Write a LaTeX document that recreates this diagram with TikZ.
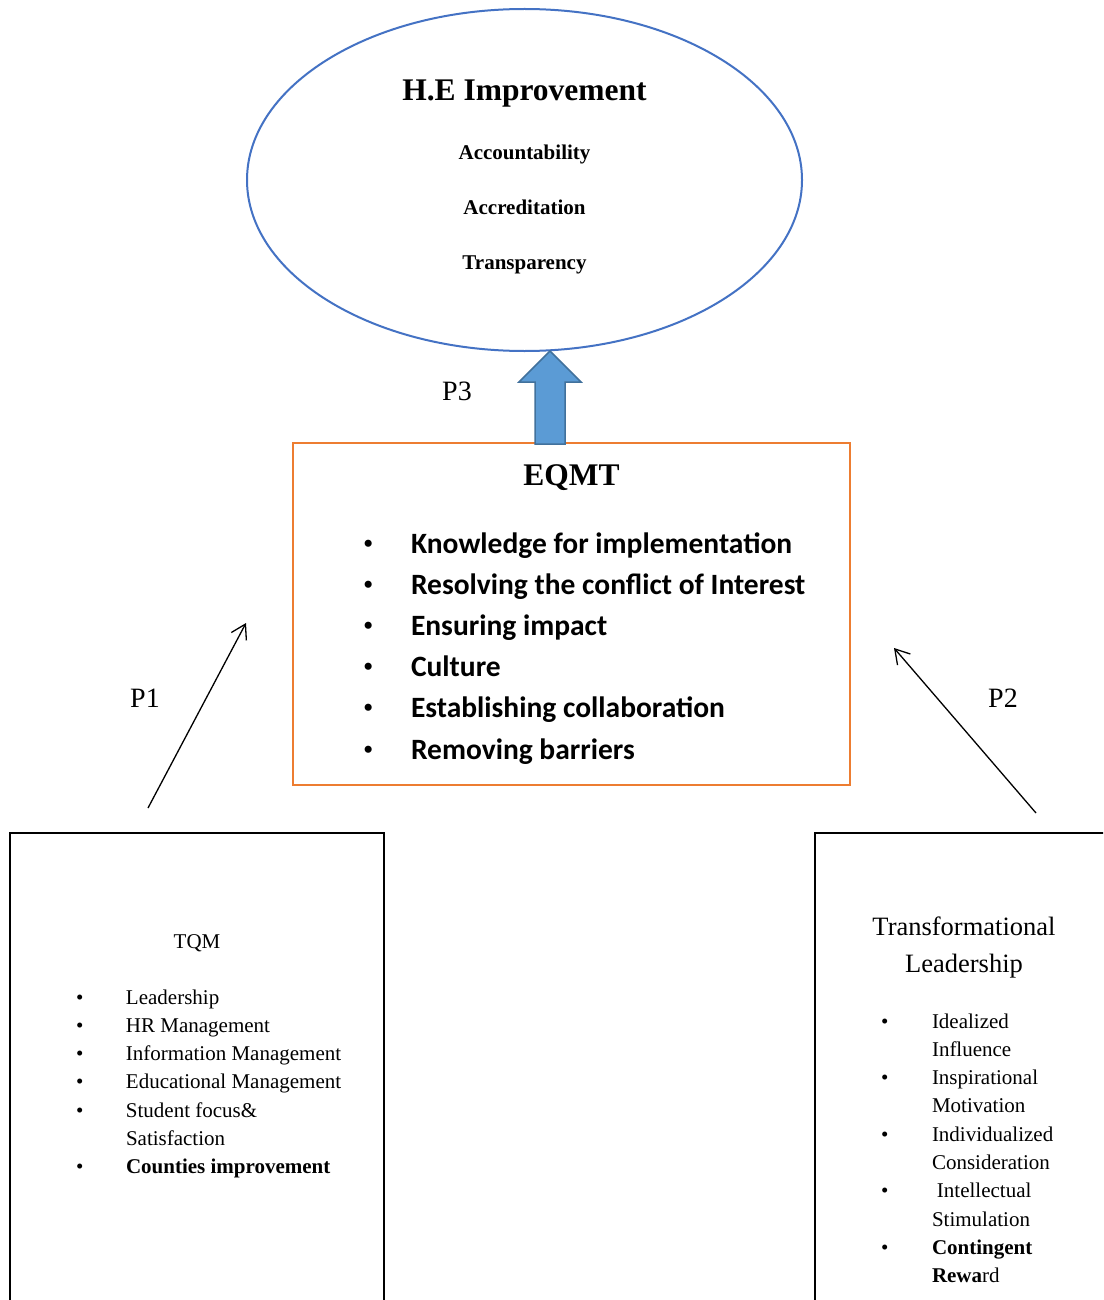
\documentclass[tikz,border=0pt]{standalone}
\usepackage{fontspec}
\setmainfont{Liberation Serif}
\newfontfamily\calibri{Carlito}
\usetikzlibrary{arrows.meta,calc,shapes.geometric}

\definecolor{heblue}{HTML}{4472C4}
\definecolor{boxorange}{HTML}{ED7D31}
\definecolor{arrowfill}{HTML}{5B9BD5}
\definecolor{arrowedge}{HTML}{41719C}

\newcommand{\serifbullet}{{\rmfamily\mdseries\textbullet}}

\tikzset{
  plain/.style={inner sep=0pt, outer sep=0pt},
  heading/.style={plain, anchor=base, font=\bfseries\fontsize{31.5}{36}\selectfont},
  aspect/.style={plain, anchor=base, font=\bfseries\fontsize{21}{24}\selectfont},
  plabel/.style={plain, anchor=base, font=\fontsize{28}{32}\selectfont},
  listbox/.style={draw=black, line width=1.5pt, plain, anchor=north west},
  pathline/.style={line width=1.3pt, -{Straight Barb[length=14pt, width=17pt, line width=1.3pt]}},
}

\begin{document}
\begin{tikzpicture}[x=1pt, y=-1pt]
\clip (0,0) rectangle (1103,1300);
\fill[white] (0,0) rectangle (1103,1300);

% outcome ellipse
\node[ellipse, draw=heblue, line width=2pt, plain, minimum width=555pt, minimum height=342pt] (he) at (524.5,180) {};
\node[heading] (hetitle) at (524.5,101) {H.E Improvement};
\node[aspect] (acc1) at (524.5,160) {Accountability};
\node[aspect] (acc2) at (524.5,214) {Accreditation};
\node[aspect] (acc3) at (524.5,269) {Transparency};

% EQMT box
\node[draw=boxorange, line width=2pt, plain, minimum width=557pt, minimum height=342pt] (eqmt) at (571.5,614) {};
\node[heading] (eqmttitle) at (571.5,485) {EQMT};
\node[plain, anchor=base west] (eqmtlist) at (363,553) {%
  \calibri\bfseries\fontsize{29.5}{41.2}\selectfont
  \begin{tabular}[t]{@{}p{48pt}@{}l@{}}
  \serifbullet & Knowledge for implementation\\
  \serifbullet & Resolving the conflict of Interest\\
  \serifbullet & Ensuring impact\\
  \serifbullet & Culture\\
  \serifbullet & Establishing collaboration\\
  \serifbullet & Removing barriers
  \end{tabular}};

% P3 block arrow from EQMT up to the ellipse
\coordinate (p3base) at (550,444);
\coordinate (p3tip) at (550,351);
\draw[fill=arrowfill, draw=arrowedge, line width=1.5pt, line join=miter]
  (p3base) ++(-15,0) -- ++(0,-62) -- ++(-16,0) -- (p3tip)
  -- ($(p3tip)+(31,31)$) -- ++(-16,0) -- ++(0,62) -- cycle;
\node[plabel] (p3) at (457,400) {P3};

% TQM box
\node[listbox, minimum width=374pt, minimum height=520pt] (tqm) at (10,833) {};
\node[plain, anchor=base, font=\fontsize{21}{24}\selectfont] (tqmtitle) at (197,948) {TQM};
\node[plain, anchor=base west] (tqmlist) at (76,1004) {%
  \fontsize{21}{28.3}\selectfont
  \begin{tabular}[t]{@{}p{50pt}@{}l@{}}
  \textbullet & Leadership\\
  \textbullet & HR Management\\
  \textbullet & Information Management\\
  \textbullet & Educational Management\\
  \textbullet & Student focus\&\\
              & Satisfaction\\
  \textbullet & \textbf{Counties improvement}
  \end{tabular}};

% Transformational leadership box
\node[listbox, minimum width=320pt, minimum height=520pt] (tl) at (815,833) {};
\node[plain, anchor=base, font=\fontsize{26.5}{30}\selectfont] (tltitle1) at (964,935) {Transformational};
\node[plain, anchor=base, font=\fontsize{26.5}{30}\selectfont] (tltitle2) at (964,972) {Leadership};
\node[plain, anchor=base west] (tllist) at (881,1028) {%
  \fontsize{21}{28.3}\selectfont
  \begin{tabular}[t]{@{}p{51pt}@{}l@{}}
  \textbullet & Idealized\\
              & Influence\\
  \textbullet & Inspirational\\
              & Motivation\\
  \textbullet & Individualized\\
              & Consideration\\
  \textbullet & \hspace{5pt}Intellectual\\
              & Stimulation\\
  \textbullet & \textbf{Contingent}\\
              & \textbf{Rewa}rd
  \end{tabular}};

% P1 and P2 links
\coordinate (p1start) at (148,808);
\coordinate (p1end) at (246,623);
\draw[pathline] (p1start) -- (p1end);
\node[plabel] (p1) at (145,707) {P1};

\coordinate (p2start) at (1036,813);
\coordinate (p2end) at (894,648);
\draw[pathline] (p2start) -- (p2end);
\node[plabel] (p2) at (1003,707) {P2};
\end{tikzpicture}
\end{document}
